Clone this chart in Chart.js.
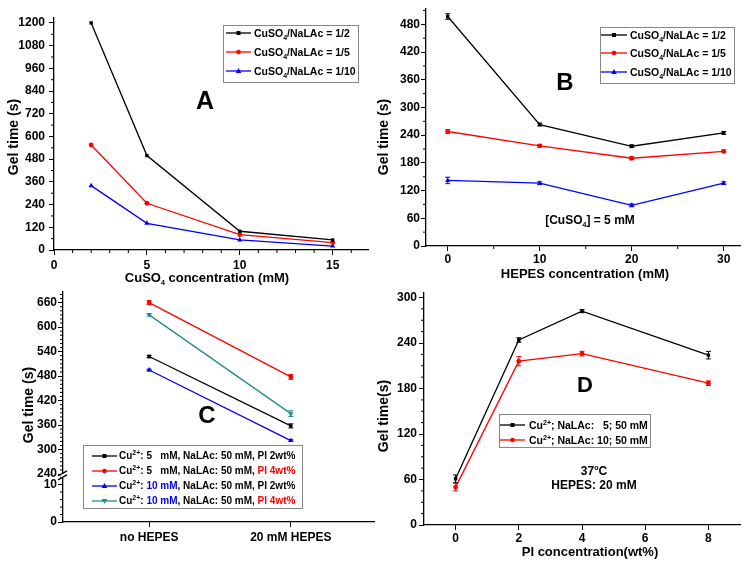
<!DOCTYPE html>
<html><head><meta charset="utf-8">
<script src="https://cdn.jsdelivr.net/npm/chart.js@4.4.0/dist/chart.umd.min.js"></script>
<style>
body{margin:0;background:#fff;width:754px;height:566px;position:relative;overflow:hidden;font-family:"Liberation Sans",Arial,sans-serif;}
canvas.pane{position:absolute;}
.t{position:absolute;font-weight:bold;color:#000;white-space:nowrap;transform:translate(-50%,-50%);line-height:1;}
.ty{position:absolute;font-weight:bold;color:#000;white-space:nowrap;transform:translate(-50%,-50%) rotate(-90deg);line-height:1;}
.box{position:absolute;border:1px solid #888;background:#fff;}
.row{position:absolute;font-weight:bold;font-size:10.5px;line-height:14px;height:14px;white-space:nowrap;color:#000;}
.row.c{font-size:10px;}
.row svg{position:absolute;left:0;top:2px;}
.row span.txt{position:absolute;top:0;}
.sb{font-size:7px;position:relative;top:3px;}
.sp{font-size:7px;position:relative;top:-4px;}
.r{color:#ff0000}.b{color:#0000ff}
</style></head><body>
<canvas id="cA" class="pane" width="377" height="283" style="left:0;top:0"></canvas>
<canvas id="cB" class="pane" width="377" height="283" style="left:377px;top:0"></canvas>
<canvas id="cC" class="pane" width="377" height="283" style="left:0;top:283px"></canvas>
<canvas id="cD" class="pane" width="377" height="283" style="left:377px;top:283px"></canvas>

<!-- Panel A texts -->
<div class="ty" style="left:13px;top:137px;font-size:14px">Gel time (s)</div>
<div class="t" style="left:207px;top:277px;font-size:13px">CuSO<span class="sb">4</span> concentration (mM)</div>
<div class="t" style="left:205px;top:100px;font-size:25px">A</div>
<div class="box" style="left:223px;top:25px;width:134px;height:56px"></div>
<div class="row" style="left:226px;top:26px"><svg width="26" height="10"><line x1="0" y1="5" x2="25" y2="5" stroke="#000" stroke-width="1.3"/><rect x="10.5" y="3" width="4" height="4" fill="#000"/></svg><span class="txt" style="left:28px">CuSO<span class="sb">4</span>/NaLAc = 1/2</span></div>
<div class="row" style="left:226px;top:45px"><svg width="26" height="10"><line x1="0" y1="5" x2="25" y2="5" stroke="#f00" stroke-width="1.3"/><circle cx="12.5" cy="5" r="2.3" fill="#f00"/></svg><span class="txt" style="left:28px">CuSO<span class="sb">4</span>/NaLAc = 1/5</span></div>
<div class="row" style="left:226px;top:64px"><svg width="26" height="10"><line x1="0" y1="5" x2="25" y2="5" stroke="#00f" stroke-width="1.3"/><polygon points="12.5,2 15.3,7 9.7,7" fill="#00f"/></svg><span class="txt" style="left:28px">CuSO<span class="sb">4</span>/NaLAc = 1/10</span></div>

<!-- Panel B texts -->
<div class="ty" style="left:383px;top:137px;font-size:14px">Gel time (s)</div>
<div class="t" style="left:585px;top:273px;font-size:13px">HEPES concentration (mM)</div>
<div class="t" style="left:565px;top:82px;font-size:24px">B</div>
<div class="t" style="left:590px;top:220px;font-size:12px">[CuSO<span class="sb">4</span>] = 5 mM</div>
<div class="box" style="left:600px;top:27px;width:133px;height:55px"></div>
<div class="row" style="left:601px;top:28px"><svg width="27" height="10"><line x1="0" y1="5" x2="26" y2="5" stroke="#000" stroke-width="1.3"/><rect x="11" y="3" width="4" height="4" fill="#000"/></svg><span class="txt" style="left:29px">CuSO<span class="sb">4</span>/NaLAc = 1/2</span></div>
<div class="row" style="left:601px;top:46px"><svg width="27" height="10"><line x1="0" y1="5" x2="26" y2="5" stroke="#f00" stroke-width="1.3"/><circle cx="13" cy="5" r="2.3" fill="#f00"/></svg><span class="txt" style="left:29px">CuSO<span class="sb">4</span>/NaLAc = 1/5</span></div>
<div class="row" style="left:601px;top:65px"><svg width="27" height="10"><line x1="0" y1="5" x2="26" y2="5" stroke="#00f" stroke-width="1.3"/><polygon points="13,2 15.8,7 10.2,7" fill="#00f"/></svg><span class="txt" style="left:29px">CuSO<span class="sb">4</span>/NaLAc = 1/10</span></div>

<!-- Panel C texts -->
<div class="ty" style="left:28px;top:405px;font-size:14px">Gel time (s)</div>
<div class="t" style="left:207px;top:415px;font-size:24px">C</div>
<div class="box" style="left:83px;top:445px;width:218px;height:62px"></div>
<div class="row c" style="left:92px;top:449px"><svg width="26" height="10"><line x1="0" y1="5" x2="25" y2="5" stroke="#000" stroke-width="1.3"/><rect x="10.5" y="3" width="4" height="4" fill="#000"/></svg><span class="txt" style="left:27px">Cu<span class="sp">2+</span>: 5&nbsp;&nbsp; mM, NaLAc: 50 mM, PI 2wt%</span></div>
<div class="row c" style="left:92px;top:464px"><svg width="26" height="10"><line x1="0" y1="5" x2="25" y2="5" stroke="#f00" stroke-width="1.3"/><circle cx="12.5" cy="5" r="2.3" fill="#f00"/></svg><span class="txt" style="left:27px">Cu<span class="sp">2+</span>: 5&nbsp;&nbsp; mM, NaLAc: 50 mM, <span class="r">PI 4wt%</span></span></div>
<div class="row c" style="left:92px;top:479px"><svg width="26" height="10"><line x1="0" y1="5" x2="25" y2="5" stroke="#00f" stroke-width="1.3"/><polygon points="12.5,2 15.3,7 9.7,7" fill="#00f"/></svg><span class="txt" style="left:27px">Cu<span class="sp">2+</span>: <span class="b">10 mM</span>, NaLAc: 50 mM, PI 2wt%</span></div>
<div class="row c" style="left:92px;top:494px"><svg width="26" height="10"><line x1="0" y1="5" x2="25" y2="5" stroke="#2a8a8a" stroke-width="1.3"/><polygon points="12.5,8 15.3,3 9.7,3" fill="#2a8a8a"/></svg><span class="txt" style="left:27px">Cu<span class="sp">2+</span>: <span class="b">10 mM</span>, NaLAc: 50 mM, <span class="r">PI 4wt%</span></span></div>

<!-- Panel D texts -->
<div class="ty" style="left:383px;top:416px;font-size:14px">Gel time(s)</div>
<div class="t" style="left:590px;top:551px;font-size:13px">PI concentration(wt%)</div>
<div class="t" style="left:585px;top:385px;font-size:22px">D</div>
<div class="t" style="left:594px;top:471px;font-size:12px">37<span class="sp" style="top:-5px">o</span>C</div>
<div class="t" style="left:594px;top:485px;font-size:12px">HEPES: 20 mM</div>
<div class="box" style="left:499px;top:414px;width:150px;height:32px"></div>
<div class="row" style="left:500px;top:418px"><svg width="26" height="10"><line x1="0" y1="5" x2="25" y2="5" stroke="#000" stroke-width="1.3"/><rect x="10.5" y="3" width="4" height="4" fill="#000"/></svg><span class="txt" style="left:29px">Cu<span class="sp">2+</span>; NaLAc:&nbsp;&nbsp; 5; 50 mM</span></div>
<div class="row" style="left:500px;top:433px"><svg width="26" height="10"><line x1="0" y1="5" x2="25" y2="5" stroke="#f00" stroke-width="1.3"/><circle cx="12.5" cy="5" r="2.3" fill="#f00"/></svg><span class="txt" style="left:29px">Cu<span class="sp">2+</span>; NaLAc: 10; 50 mM</span></div>

<script>
// ---------- DATA ----------
// Panel A
const concA = [2, 5, 10, 15];
const gelA_r2 = [1200, 499, 99, 53];
const gelA_r5 = [555, 247, 81, 39];
const gelA_r10 = [340, 141, 53, 21];
const ticksAx = [0, 5, 10, 15];
const ticksAy = [0, 120, 240, 360, 480, 600, 720, 840, 960, 1080, 1200];
// Panel B
const hepesB = [0, 10, 20, 30];
const gelB_r2 = [497, 263, 216, 245];
const errB_r2 = [6, 3, 3, 3];
const gelB_r5 = [248, 217, 190, 205];
const errB_r5 = [4, 3, 3, 3];
const gelB_r10 = [142, 136, 88, 136];
const errB_r10 = [7, 3, 3, 3];
const ticksBx = [0, 10, 20, 30];
const ticksBy = [0, 60, 120, 180, 240, 300, 360, 420, 480];
// Panel C
const catC = ['no HEPES', '20 mM HEPES'];
const posC = [0, 1];
const gelC_5_2 = [528, 358];
const errC_5_2 = [3, 5];
const gelC_5_4 = [660, 478];
const errC_5_4 = [5, 6];
const gelC_10_2 = [495, 322];
const errC_10_2 = [2, 2];
const gelC_10_4 = [630, 388];
const errC_10_4 = [3, 7];
const ticksCyUp = [240, 300, 360, 420, 480, 540, 600, 660];
const ticksCyLow = [0, 10];
// Panel D
const piD = [0, 2, 4, 8];
const gelD_5 = [61, 244, 282, 224];
const errD_5 = [5, 3, 2, 5];
const gelD_10 = [50, 216, 226, 187];
const errD_10 = [5, 6, 3, 3];
const ticksDx = [0, 2, 4, 6, 8];
const ticksDy = [0, 60, 120, 180, 240, 300];

// ---------- HELPERS ----------
const FONT = {family: "'Liberation Sans', Arial, sans-serif", size: 12, weight: 'bold'};
const pts = (xs, ys) => xs.map((x, i) => ({x: x, y: ys[i]}));

function xScale(min, max, ticks, pad, h, labels) {
  return {
    type: 'linear', position: 'bottom', min: min, max: max,
    afterBuildTicks: s => { s.ticks = ticks.map(v => ({value: v})); },
    afterFit: s => { s.height = h; },
    ticks: {font: FONT, color: '#000', padding: pad, maxRotation: 0, autoSkip: false,
      callback: v => labels ? (labels[ticks.indexOf(v)] ?? '') : String(v)},
    grid: {display: true, drawOnChartArea: false, drawTicks: true, tickLength: 5, color: '#000', lineWidth: 1},
    border: {display: true, color: '#000', width: 1.3}
  };
}
function yScale(min, max, ticks, pad, w, extra) {
  return Object.assign({
    type: 'linear', position: 'left', min: min, max: max,
    afterBuildTicks: s => { s.ticks = ticks.map(v => ({value: v})); },
    afterFit: s => { s.width = w; },
    ticks: {font: FONT, color: '#000', padding: pad, autoSkip: false, callback: v => String(v)},
    grid: {display: true, drawOnChartArea: false, drawTicks: true, tickLength: 5, color: '#000', lineWidth: 1},
    border: {display: true, color: '#000', width: 1.3}
  }, extra || {});
}
function ds(data, color, style, errs, rot) {
  return {data: data, borderColor: color, backgroundColor: color, borderWidth: 1.3,
    pointStyle: style, pointRadius: style === 'triangle' ? 3 : 2.4, pointRotation: rot || 0,
    pointBorderWidth: 0, pointHoverRadius: 0, errors: errs, tension: 0, fill: false};
}

const extras = {
  id: 'extras',
  afterDatasetsDraw(chart) {
    const ctx = chart.ctx;
    chart.data.datasets.forEach((d, di) => {
      if (!d.errors) return;
      const meta = chart.getDatasetMeta(di);
      const xs = chart.scales[meta.xAxisID], ys = chart.scales[meta.yAxisID];
      ctx.save(); ctx.strokeStyle = d.borderColor; ctx.lineWidth = 1;
      d.data.forEach((p, i) => {
        const e = d.errors[i]; if (!e) return;
        const x = xs.getPixelForValue(p.x), y1 = ys.getPixelForValue(p.y - e), y2 = ys.getPixelForValue(p.y + e);
        ctx.beginPath();
        ctx.moveTo(x, y1); ctx.lineTo(x, y2);
        ctx.moveTo(x - 2.5, y1); ctx.lineTo(x + 2.5, y1);
        ctx.moveTo(x - 2.5, y2); ctx.lineTo(x + 2.5, y2);
        ctx.stroke();
      });
      ctx.restore();
    });
  },
  afterDraw(chart, args, opts) {
    const ctx = chart.ctx;
    ctx.save(); ctx.strokeStyle = '#000'; ctx.lineWidth = 1;
    const minor = opts.minor || {};
    Object.keys(minor).forEach(id => {
      const s = chart.scales[id]; if (!s) return;
      const step = minor[id];
      const majors = s.ticks.map(t => t.value);
      for (let v = Math.ceil(s.min / step) * step; v <= s.max + 1e-9; v += step) {
        if (majors.some(m => Math.abs(m - v) < step / 100)) continue;
        const p = s.getPixelForValue(v);
        ctx.beginPath();
        if (s.isHorizontal()) { ctx.moveTo(p, s.top); ctx.lineTo(p, s.top + 3); }
        else { ctx.moveTo(s.right, p); ctx.lineTo(s.right - 3, p); }
        ctx.stroke();
      }
    });
    if (opts.breakAxis) {
      const up = chart.scales[opts.breakAxis];
      const x = up.right, y = up.bottom + 1;
      ctx.fillStyle = '#fff';
      ctx.fillRect(x - 2, y - 2, 4, 4);
      ctx.lineWidth = 1.2;
      ctx.beginPath();
      ctx.moveTo(x - 5, y - 0); ctx.lineTo(x + 4, y - 5);
      ctx.moveTo(x - 5, y + 4); ctx.lineTo(x + 4, y - 1);
      ctx.stroke();
    }
    ctx.restore();
  }
};

function base(padTop, padRight, scales, minor, breakAxis) {
  return {
    responsive: false, animation: false, devicePixelRatio: 1,
    layout: {padding: {left: 0, top: padTop, right: padRight, bottom: 0}},
    plugins: {legend: {display: false}, tooltip: {enabled: false}, extras: {minor: minor, breakAxis: breakAxis}},
    scales: scales
  };
}

// ---------- PANEL A ----------
new Chart(document.getElementById('cA'), {
  type: 'line',
  data: {datasets: [
    ds(pts(concA, gelA_r2), '#000000', 'rect'),
    ds(pts(concA, gelA_r5), '#ff0000', 'circle'),
    ds(pts(concA, gelA_r10), '#0000ff', 'triangle')
  ]},
  options: base(18, 9, {
    x: xScale(0, 16.9, ticksAx, 3, 33),
    y: yScale(0, 1226, ticksAy, 4, 54)
  }, {x: 1, y: 60}),
  plugins: [extras]
});

// ---------- PANEL B ----------
new Chart(document.getElementById('cB'), {
  type: 'line',
  data: {datasets: [
    ds(pts(hepesB, gelB_r2), '#000000', 'rect', errB_r2),
    ds(pts(hepesB, gelB_r5), '#ff0000', 'circle', errB_r5),
    ds(pts(hepesB, gelB_r10), '#0000ff', 'triangle', errB_r10)
  ]},
  options: base(7, 14, {
    x: xScale(-2.36, 31.77, ticksBx, 1, 37),
    y: yScale(0, 515, ticksBy, 1, 49)
  }, {x: 5, y: 30}),
  plugins: [extras]
});

// ---------- PANEL C ----------
new Chart(document.getElementById('cC'), {
  type: 'line',
  data: {datasets: [
    Object.assign(ds(pts(posC, gelC_5_2), '#000000', 'rect', errC_5_2), {yAxisID: 'yUp'}),
    Object.assign(ds(pts(posC, gelC_5_4), '#ff0000', 'circle', errC_5_4), {yAxisID: 'yUp'}),
    Object.assign(ds(pts(posC, gelC_10_2), '#0000ff', 'triangle', errC_10_2), {yAxisID: 'yUp'}),
    Object.assign(ds(pts(posC, gelC_10_4), '#2a8a8a', 'triangle', errC_10_4, 180), {yAxisID: 'yUp'})
  ]},
  options: base(4, 0, {
    x: xScale(-0.608, 1.587, posC, 3, 44, catC),
    yLow: yScale(0, 12.6, ticksCyLow, 1, 63, {stack: 'c', stackWeight: 48}),
    yUp: yScale(238, 688, ticksCyUp, 1, 63, {stack: 'c', stackWeight: 187})
  }, {yUp: 10, yLow: 2}, 'yUp'),
  plugins: [extras]
});

// ---------- PANEL D ----------
new Chart(document.getElementById('cD'), {
  type: 'line',
  data: {datasets: [
    ds(pts(piD, gelD_5), '#000000', 'rect', errD_5),
    ds(pts(piD, gelD_10), '#ff0000', 'circle', errD_10)
  ]},
  options: base(5, 14, {
    x: xScale(-1, 9, ticksDx, 1, 41),
    y: yScale(0, 307, ticksDy, 2, 47)
  }, {y: 15}),
  plugins: [extras]
});
</script>
</body></html>
